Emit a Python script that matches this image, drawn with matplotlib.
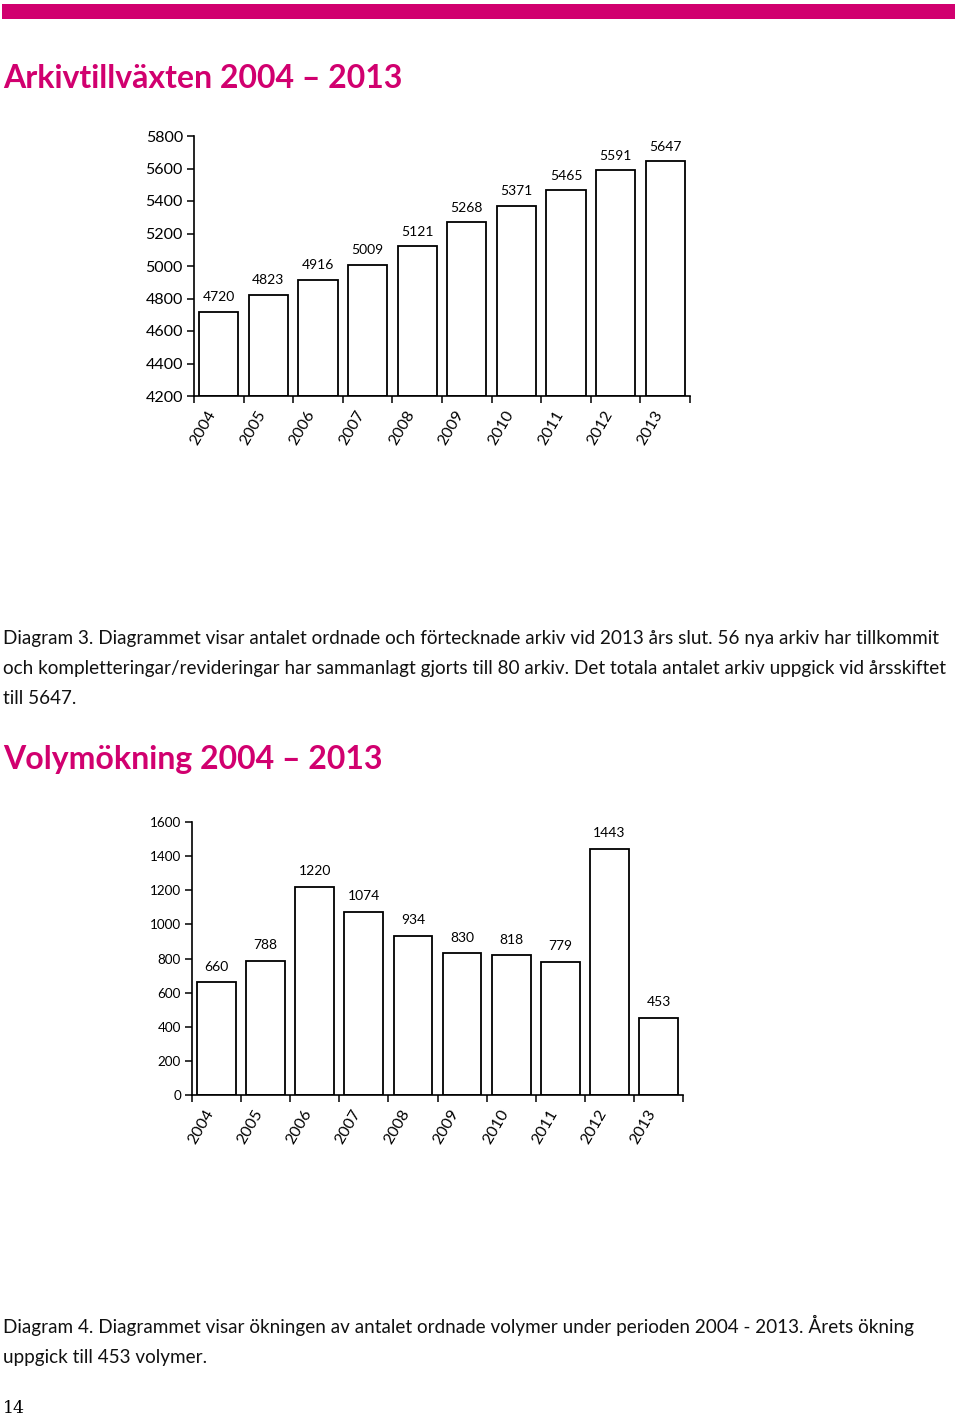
import matplotlib
matplotlib.use("Agg")
import matplotlib.pyplot as plt
from matplotlib.ticker import FixedLocator, NullFormatter

years = ["2004", "2005", "2006", "2007", "2008", "2009", "2010", "2011", "2012", "2013"]
arkiv = [4720, 4823, 4916, 5009, 5121, 5268, 5371, 5465, 5591, 5647]
volymer = [660, 788, 1220, 1074, 934, 830, 818, 779, 1443, 453]
arkiv_yticks = [4200, 4400, 4600, 4800, 5000, 5200, 5400, 5600, 5800]
volym_yticks = [0, 200, 400, 600, 800, 1000, 1200, 1400, 1600]

title1 = "Arkivtillväxten 2004 – 2013"
title2 = "Volymökning 2004 – 2013"
caption1 = [
    "Diagram 3. Diagrammet visar antalet ordnade och förtecknade arkiv vid 2013 års slut. 56 nya arkiv har tillkommit",
    "och kompletteringar/revideringar har sammanlagt gjorts till 80 arkiv. Det totala antalet arkiv uppgick vid årsskiftet",
    "till 5647.",
]
caption2 = [
    "Diagram 4. Diagrammet visar ökningen av antalet ordnade volymer under perioden 2004 - 2013. Årets ökning",
    "uppgick till 453 volymer.",
]

MAGENTA = "#D1006F"
W, H = 960, 1418
BODY = ["Lato", "DejaVu Sans"]

fig = plt.figure(figsize=(W / 100, H / 100), dpi=100)
fig.patch.set_facecolor("white")


def px_axes(x0, y0, x1, y1):
    return fig.add_axes([x0 / W, 1 - y1 / H, (x1 - x0) / W, (y1 - y0) / H])


# top magenta band
band = px_axes(2, 4, 955, 19)
band.set_facecolor(MAGENTA)
band.set_xticks([]); band.set_yticks([])
for s in band.spines.values():
    s.set_visible(False)


def bar_chart(ax, vals, yticks, ytick_size, val_size, val_offset):
    n = len(vals)
    x = list(range(n))
    ax.bar(x, [v - yticks[0] for v in vals], bottom=yticks[0], width=0.79,
           color="white", edgecolor="black", linewidth=1.3, zorder=2)
    ax.set_xlim(-0.5, n - 0.5)
    ax.set_ylim(yticks[0], yticks[-1])
    for s in ["top", "right"]:
        ax.spines[s].set_visible(False)
    ax.spines["left"].set_linewidth(1.2)
    ax.spines["bottom"].set_linewidth(1.2)
    ax.set_yticks(yticks)
    ax.set_yticklabels([str(t) for t in yticks], fontsize=ytick_size, family=BODY)
    ax.tick_params(axis="y", direction="out", length=5, width=1.1, pad=3)
    ax.set_xticks(x)
    ax.set_xticklabels(years, rotation=60, ha="right", fontsize=11.5, family=BODY)
    ax.tick_params(axis="x", which="major", length=0, pad=9)
    ax.xaxis.set_minor_locator(FixedLocator([i - 0.5 for i in range(n + 1)]))
    ax.xaxis.set_minor_formatter(NullFormatter())
    ax.tick_params(axis="x", which="minor", direction="out", length=5, width=1.1)
    for xi, v in zip(x, vals):
        ax.annotate(str(v), (xi, v), xytext=(0, val_offset), textcoords="offset points",
                    ha="center", va="bottom", fontsize=val_size, family=BODY)


ax1 = px_axes(194, 136, 690, 396)
bar_chart(ax1, arkiv, arkiv_yticks, 11.5, 10, 6)

ax2 = px_axes(192, 822, 683, 1095)
bar_chart(ax2, volymer, volym_yticks, 9.7, 10, 7)

# titles
fig.text(3 / W, 1 - 88 / H, title1, color=MAGENTA, fontsize=23, fontweight="bold",
         family=BODY, ha="left", va="baseline")
fig.text(3 / W, 1 - 769 / H, title2, color=MAGENTA, fontsize=23, fontweight="bold",
         family=BODY, ha="left", va="baseline")

# captions
for i, line in enumerate(caption1):
    fig.text(3 / W, 1 - (644 + 30 * i) / H, line, fontsize=13.6, family=BODY,
             ha="left", va="baseline", color="#111111")
for i, line in enumerate(caption2):
    fig.text(3 / W, 1 - (1333 + 30 * i) / H, line, fontsize=13.6, family=BODY,
             ha="left", va="baseline", color="#111111")

# page number
fig.text(3 / W, 1 - 1413 / H, "14", fontsize=12.5, family=["DejaVu Serif"],
         ha="left", va="baseline")

fig.savefig("out.png", dpi=100)
